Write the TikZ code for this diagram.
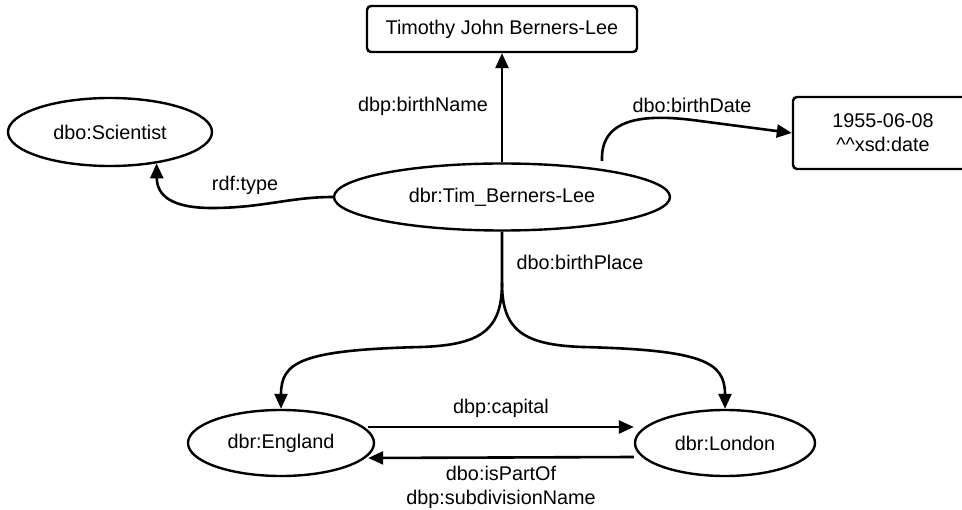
\documentclass[tikz,border=0pt]{standalone}
\usepackage{fontspec}
\setmainfont{Liberation Sans}
\usetikzlibrary{shapes.geometric,arrows.meta}
\begin{document}
\begin{tikzpicture}[x=1pt,y=-1pt,
  every node/.style={font=\fontsize{19.8}{24}\selectfont},
  ell/.style={draw,ellipse,line width=2.4pt,inner sep=0pt},
  box/.style={draw,rectangle,rounded corners=4pt,line width=2.4pt,inner sep=0pt},
  lbl/.style={inner sep=0pt},
  arr/.style={line width=2.6pt,-{Triangle[length=15pt,width=13pt]}}
]
\useasboundingbox (0,0) rectangle (962,510);
\clip (0,0) rectangle (962,510);

% resources and literals
\node[box, minimum width=270pt, minimum height=46pt] (name) at (502,29) {Timothy John Berners-Lee};
\node[ell, minimum width=204pt, minimum height=68pt] (sci) at (110,132) {dbo:Scientist};
\node[ell, minimum width=336pt, minimum height=67pt] (tbl) at (502,197) {dbr:Tim\_Berners-Lee};
\node[box, minimum width=180pt, minimum height=72pt, align=center] (date) at (883,133)
  {1955-06-08\\\textasciicircum\textasciicircum xsd:date};
\node[ell, minimum width=186pt, minimum height=66pt] (eng) at (281,443) {dbr:England};
\node[ell, minimum width=180pt, minimum height=66pt] (lon) at (725,443) {dbr:London};

% property labels
\node[lbl] (lname) at (423,106) {dbp:birthName};
\node[lbl] (ltype) at (245,185) {rdf:type};
\node[lbl] (ldate) at (692,105) {dbo:birthDate};
\node[lbl] (lplace) at (580,262) {dbo:birthPlace};
\node[lbl] (lcap) at (501,408) {dbp:capital};
\node[lbl, align=center] (lpart) at (501,487) {dbo:isPartOf\\dbp:subdivisionName};

% edges
\draw[arr] (tbl.north) -- (name.south);

\coordinate (bd) at (602,161);
\draw[arr] (bd) .. controls (600,115) and (650,114) .. (700,121) -- (date.west);

\draw[arr] (tbl.west) .. controls (290,197) and (262,208) .. (212,208)
  .. controls (172,208) and (157,196) .. (sci.-34);

\coordinate (split) at (502,283);
\draw[arr] (tbl.south) -- (split) .. controls (502,330) and (481,345) .. (421,347)
  .. controls (301,350) and (281,362) .. (eng.north);
\draw[arr] (split) .. controls (502,330) and (523,345) .. (583,347)
  .. controls (703,350) and (725,362) .. (lon.north);

\draw[arr] ([shift={(-7pt,16pt)}]eng.east) -- ([yshift=16pt]lon.west);
\draw[arr] ([yshift=-14pt]lon.west) -- ([shift={(-7pt,-15pt)}]eng.east);
\end{tikzpicture}
\end{document}
